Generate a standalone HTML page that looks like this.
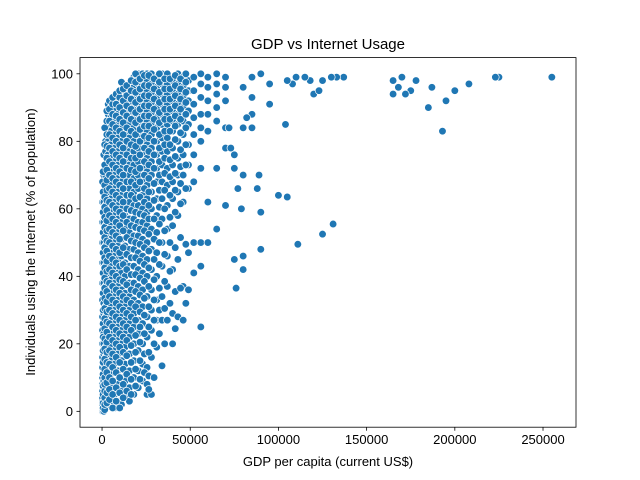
<!DOCTYPE html>
<html><head><meta charset="utf-8"><style>
body{margin:0;background:#fff;}
svg{display:block;font-family:"Liberation Sans","DejaVu Sans",sans-serif;}
</style></head><body>
<svg id="chart" width="640" height="480" viewBox="0 0 640 480">
<rect width="640" height="480" fill="#fff"/>
<g id="points"></g>
<rect x="80" y="57.6" width="496" height="369.6" fill="none" stroke="#000" stroke-width="0.8"/>
<g id="xticks"></g>
<g id="yticks"></g>
<text x="328" y="49" text-anchor="middle" font-size="15">GDP vs Internet Usage</text>
<text x="328" y="466" text-anchor="middle" font-size="13">GDP per capita (current US$)</text>
<text transform="translate(35,242) rotate(-90)" text-anchor="middle" font-size="13">Individuals using the Internet (% of population)</text>
</svg>
<script>
const xTicks = [0, 50000, 100000, 150000, 200000, 250000];
const yTicks = [0, 20, 40, 60, 80, 100];
const colGdpK = [0.3,1,2,3.5,5,7,9,11,13,15.5,18,20.5,23,25.5,28,31,34,37,40,43,46,49,52,56,60,65,70];
const colInternet = [
[0,0.5,1,2,3,4,6,8,10,13,16,20,24,28,33,38,44,50,56,62,68],
[0,1,3,5,7,9,11,14,17,20,23,26,29,32,35,38,41,44,47,50,53,56,59,62,65,70,76],
[1,4,7,10,13,16,19,22,25,28,31,34,37,40,43,46,49,52,55,58,61,64,67,70,73,77,80,84],
[2,5,8,12,16,20,24,28,32,36,40,44,48,52,56,60,64,68,72,76,80,84,88,91],
[3,7,11,15,19,23,27,31,35,39,43,47,51,55,59,63,67,71,75,79,83,87,90,92],
[1,5,9,14,18,22,26,30,34,38,42,46,50,54,58,62,66,70,74,78,82,86,89,93],
[3,8,12,17,21,25,29,33,37,41,45,49,53,57,61,65,69,73,77,81,85,88,91,94],
[2,6,10,15,20,24,28,32,36,41,46,51,56,60,64,68,72,76,80,84,87,90,95,97.5],
[4,9,14,19,23,27,31,35,40,44,49,54,58,62,66,70,74,78,82,86,89,92,95],
[3,7,12,17,22,26,30,34,38,43,48,53,57,62,66,70,73,77,81,85,88,91,94,96],
[5,10,15,20,25,29,33,38,43,48,52,57,61,65,69,73,77,80,84,87,90,93,96,99],
[7,12,18,23,27,32,37,42,47,52,56,61,66,70,74,78,82,85,88,91,94,97,100],
[9,14,20,26,31,36,41,46,51,56,60,64,68,72,76,80,83,86,89,92,95,98,100],
[5,8,13,22,28,34,40,45,50,55,59,63,67,71,75,79,83,86,89,92,95,98,100],
[5,16,24,30,36,42,48,54,60,65,70,74,78,82,85,88,91,94,97,100],
[19,27,33,40,47,53,58,63,68,72,76,80,84,87,90,93,96,99],
[13.5,27,34,43,50,57,63,68,73,77,81,85,88,91,94,97,100],
[27,37,46,54,61,67,72,77,81,85,88,91,94,97,100],
[20,29,42,55,63,68,73,78,83,86,89,92,95,98],
[28,45,58,65,70,75,80,85,88,91,94,97,100],
[27,37,62,70,76,82,86,90,93,96,99],
[36,47,66,73,79,85,89,92,95,98],
[41,50,68,76,82,87,91,95,99],
[25,43,50,72,80,84,88,93,97,100],
[50,62,83,88,92,96,99],
[54,72,86,90,94,97,100],
[61,78,84,92,96,99]
];
const fillGdpK = [0.6,1.5,2.7,4.2,6,8,10,12,14,16.5,19,21.5,24,26.5,29.5,32.5,35.5,38.5,41.5,44.5,47.5];
const fillInternet = [
[1,2.5,5,7.5,11,14.5,18,22,26,30,35,41,47,53,59,65,71],
[0.5,2,4,6,8,10,12.5,15.5,18.5,21.5,24.5,27.5,30.5,33.5,36.5,39.5,42.5,45.5,48.5,51.5,54.5,57.5,60.5,63.5,67,73,79,84],
[2.5,5.5,8.5,11.5,14.5,17.5,20.5,23.5,26.5,29.5,32.5,35.5,38.5,41.5,44.5,47.5,50.5,53.5,56.5,59.5,62.5,65.5,68.5,71.5,75,78.5,82,86,89],
[3.5,6.5,10,14,18,22,26,30,34,38,42,46,50,54,58,62,66,70,74,78,82,86,89.5,92],
[1,5,9,13,17,21,25,29,33,37,41,45,49,53,57,61,65,69,73,77,81,85,88,91,93],
[3,7,11.5,16,20,24,28,32,36,40,44,48,52,56,60,64,68,72,76,80,84,87.5,91,94],
[1,5.5,10,14.5,19,23,27,31,35,39,43,47,51,55,59,63,67,71,75,79,83,86.5,90,93,95],
[4,8,12.5,17.5,22,26,30,34,38.5,43.5,48.5,53.5,58,62,66,70,74,78,82,85.5,88.5,92,95.5],
[6,11,16.5,21,25,29,33,37.5,42,46.5,51.5,56,60,64,68,72,76,80,84,87.5,90.5,93.5,96.5],
[5,9.5,14.5,19.5,24,28,32,36,40.5,45.5,50.5,55,59.5,64,68,71.5,75,79,83,86.5,89.5,92.5,95,98],
[7.5,12.5,17.5,22.5,27,31,35.5,40.5,45.5,50,54.5,59,63,67,71,75,78.5,82,85.5,88.5,91.5,94.5,97.5,100],
[9.5,15,20.5,25,29.5,34.5,39.5,44.5,49.5,54,58.5,63.5,68,72,76,80,83.5,86.5,89.5,92.5,95.5,98.5],
[11.5,17,23,28.5,33.5,38.5,43.5,48.5,53.5,58,62,66,70,74,78,81.5,84.5,87.5,90.5,93.5,96.5,99.5],
[6.5,10.5,17.5,25,31,37,42.5,47.5,52.5,57,61,65,69,73,77,81,84.5,87.5,90.5,93.5,96.5,99.5],
[10,20,27,33,39,45,51,57,62.5,67.5,72,76,80,83.5,86.5,89.5,92.5,95.5,98.5],
[23,30,36.5,43.5,50,55.5,60.5,65.5,70,74,78,82,85.5,88.5,91.5,94.5,97.5,100],
[20,30.5,38.5,46.5,53.5,60,65.5,70.5,75,79,83,86.5,89.5,92.5,95.5,98.5],
[32,41.5,50,57.5,64,69.5,74.5,79,83,86.5,89.5,92.5,95.5,98.5],
[24.5,35.5,48.5,59,65.5,70.5,75.5,80.5,84.5,87.5,90.5,93.5,96.5,99.5],
[36.5,51.5,61.5,67.5,72.5,77.5,82.5,86.5,89.5,92.5,95.5,98.5],
[32,49.5,66,73,79,84,88,91.5,94.5,97.5,100]
];
const outlierGdpK = [255,225,223,208,200,195,193,185,187,178,175,172,170,168,165,165,137,133,130,125,120,123,118,115,110,108,105,104,100,105,111,125,131,90,90,88,89,80,80,76,75,79,77,80,75,75,73,95,90,85,80,85,95,85,82,80,85,72];
const outlierInternet = [99,99,99,97,95,92,83,90,96,98,95,94,99,96,98,94,99,99,99,98,94,95,98,99,99,97,98,85,64,63.5,49.5,52.5,55.5,48,59,66,70,42,46,36.5,45,60,66,70,72,76,78,97,100,99,96,93,91,88,87,84,84,84];

const X0=-12.5, X1=268.7, Y0=-4.7, Y1=104.8;
const L=80, R=576, T=57.6, B=427.2;
function xs(k){return L+(k-X0)/(X1-X0)*(R-L);}
function ys(v){return B-(v-Y0)/(Y1-Y0)*(B-T);}
const NS="http://www.w3.org/2000/svg";
const pts=document.getElementById('points');
function dot(k,v){
  const c=document.createElementNS(NS,'circle');
  c.setAttribute('cx',xs(k));c.setAttribute('cy',ys(v));c.setAttribute('r',3.8);
  c.setAttribute('fill','#1f77b4');c.setAttribute('stroke','#fff');c.setAttribute('stroke-width','0.7');
  
  
  pts.appendChild(c);
}
colGdpK.forEach((k,i)=>colInternet[i].forEach(v=>dot(k,v)));
fillGdpK.forEach((k,i)=>fillInternet[i].forEach(v=>dot(k,v)));
outlierGdpK.forEach((k,i)=>dot(k,outlierInternet[i]));

const xg=document.getElementById('xticks');
xTicks.forEach(t=>{
  const x=xs(t/1000);
  const l=document.createElementNS(NS,'line');
  l.setAttribute('x1',x);l.setAttribute('x2',x);l.setAttribute('y1',B);l.setAttribute('y2',B+3.5);l.setAttribute('stroke','#000');l.setAttribute('stroke-width','0.8');
  
  
  xg.appendChild(l);
  const tx=document.createElementNS(NS,'text');
  tx.setAttribute('x',x);tx.setAttribute('y',B+17);tx.setAttribute('text-anchor','middle');tx.setAttribute('font-size','13');
  tx.textContent=t;
  
  
  xg.appendChild(tx);
});
const yg=document.getElementById('yticks');
yTicks.forEach(t=>{
  const y=ys(t);
  const l=document.createElementNS(NS,'line');
  l.setAttribute('x1',L-3.5);l.setAttribute('x2',L);l.setAttribute('y1',y);l.setAttribute('y2',y);l.setAttribute('stroke','#000');l.setAttribute('stroke-width','0.8');
  
  
  yg.appendChild(l);
  const tx=document.createElementNS(NS,'text');
  tx.setAttribute('x',L-7);tx.setAttribute('y',y+4.5);tx.setAttribute('text-anchor','end');tx.setAttribute('font-size','13');
  tx.textContent=t;
  
  
  yg.appendChild(tx);
});
</script>
</body></html>
